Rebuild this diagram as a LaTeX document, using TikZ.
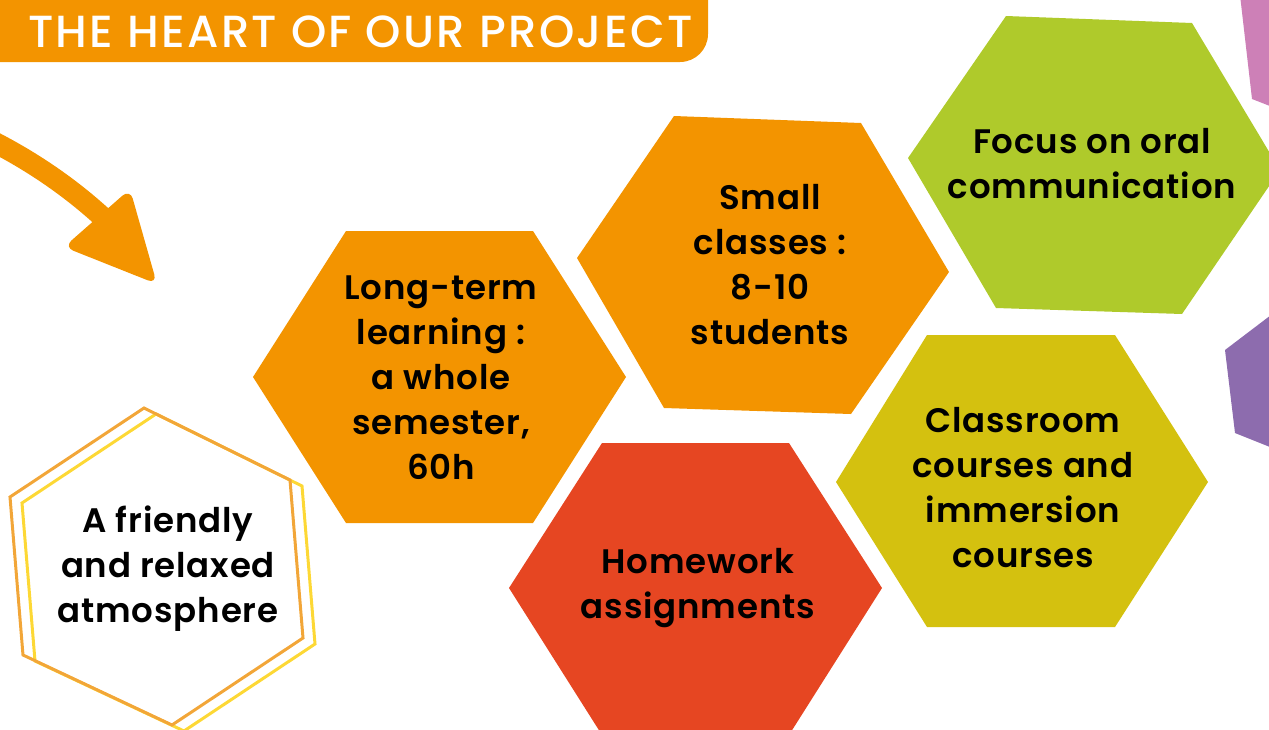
\documentclass[tikz,border=0pt]{standalone}
\usepackage{fontspec}
\setmainfont{Poppins}
\newfontfamily\hexfont{Poppins SemiBold}[LetterSpace=2.5]
\newfontfamily\titlefont{Poppins Medium}[LetterSpace=5.1]
\definecolor{hexorange}{HTML}{F39400}
\definecolor{hexgreen}{HTML}{AFCA2B}
\definecolor{hexolive}{HTML}{D4C10F}
\definecolor{hexred}{HTML}{E64622}
\definecolor{hexpink}{HTML}{CD80B7}
\definecolor{hexpurple}{HTML}{8D6CAE}
\definecolor{lineorange}{HTML}{F2A638}
\definecolor{lineyellow}{HTML}{FDD835}
\tikzset{
  hexlabel/.style={align=center, inner sep=0pt, text=black,
    font=\hexfont\fontsize{34}{45}\selectfont},
  outline/.style={line width=3pt, line join=miter}
}
\begin{document}
\begin{tikzpicture}[x=1pt,y=-1pt]
\useasboundingbox (0,0) rectangle (1269,729);
% title banner
\fill[hexorange, rounded corners=28pt] (-40,-40) -- (708,-40) -- (708,62) -- (-40,62) -- cycle;
\node[anchor=base west, inner sep=0pt, text=white, font=\titlefont\fontsize{45}{50}\selectfont] (title) at (28,47) {THE HEART OF OUR PROJECT};
% arrow
\coordinate (ashaft0) at (-12,139);
\coordinate (ashaft1) at (122,236);
\draw[hexorange, line width=21pt] (ashaft0) .. controls (40,165) and (85,198) .. (ashaft1);
\fill[hexorange, rounded corners=10pt] (64,247) -- (130,189) -- (157,284) -- cycle;
% side shapes
\fill[hexpink] (1240,-5) -- (1252,99) -- (1275,108) -- (1275,-5) -- cycle;
\fill[hexpurple] (1275,312) -- (1225,350) -- (1235,433) -- (1275,449) -- cycle;
% hexagons
\fill[hexorange] (346,231) -- (533,231) -- (626,377) -- (533,523) -- (346,523) -- (253,377) -- cycle;
\fill[hexorange] (674,116) -- (861,123) -- (949,272) -- (851,414) -- (664,408) -- (577,258) -- cycle;
\fill[hexgreen] (1006,16) -- (1192,23) -- (1280,170) -- (1182,314) -- (996,308) -- (908,158) -- cycle;
\fill[hexolive] (927,335) -- (1115,335) -- (1208,482) -- (1115,627) -- (927,627) -- (836,482) -- cycle;
\fill[hexred] (602,443) -- (789,443) -- (882,588) -- (789,735) -- (602,735) -- (509,588) -- cycle;
% outlined hexagon
\draw[lineyellow, outline] (156,414) -- (302,486) -- (315,644) -- (184,731) -- (35,661) -- (22,503) -- cycle;
\draw[lineorange, outline] (144,408) -- (290,480) -- (303,638) -- (172,725) -- (23,655) -- (10,497) -- cycle;
% labels
\node[hexlabel] (longterm) at (441,378) {Long-term\\learning :\\a whole\\semester,\\60h};
\node[hexlabel] (small) at (770,265) {Small\\classes :\\8-10\\students};
\node[hexlabel] (focus) at (1092,164) {Focus on oral\\communication};
\node[hexlabel] (classroom) at (1023,488) {Classroom\\courses and\\immersion\\courses};
\node[hexlabel] (homework) at (698,588) {Homework\\assignments};
\node[hexlabel] (friendly) at (168,569) {A friendly\\and relaxed\\atmosphere};
\end{tikzpicture}
\end{document}
